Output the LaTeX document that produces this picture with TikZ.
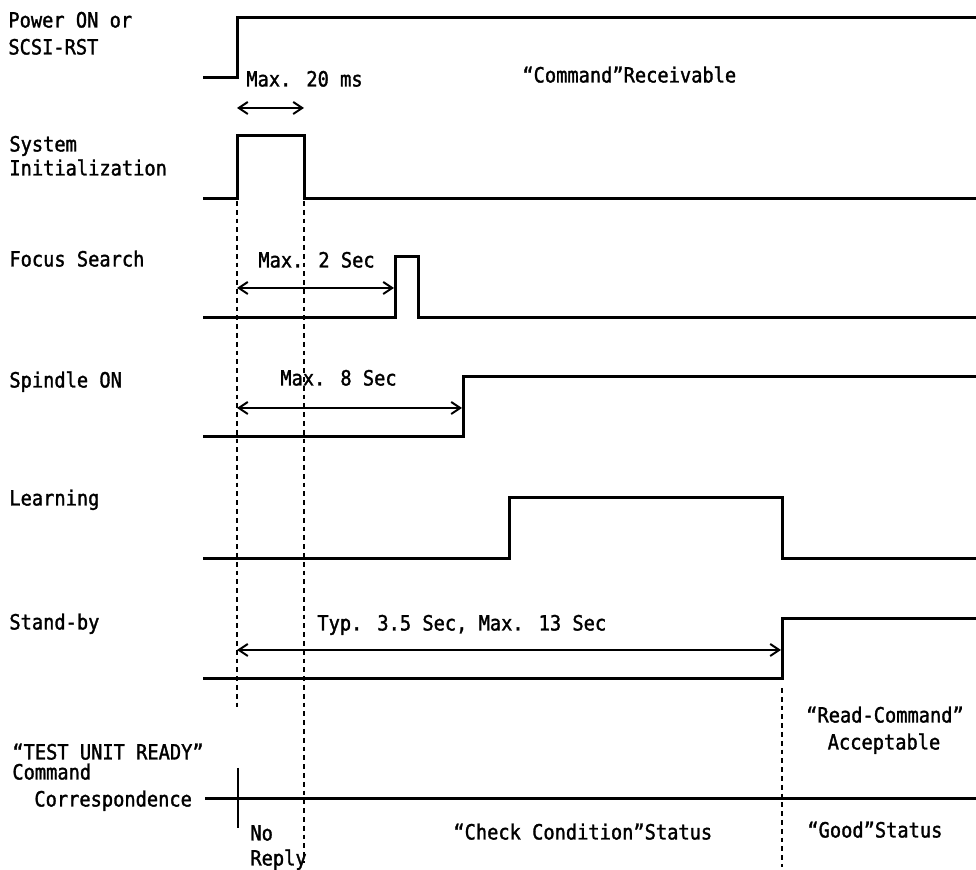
\documentclass[tikz,border=0pt]{standalone}
\usepackage{fontspec}
\setmainfont{DejaVu Sans Mono}[FakeStretch=0.89, FakeBold=1.5]
\usetikzlibrary{arrows.meta}

\begin{document}
\begin{tikzpicture}[x=0.5pt, y=-0.5pt,
    sig/.style={line width=1.5pt},
    guide/.style={line width=1pt, dash pattern=on 2.4pt off 2pt},
    dim/.style={line width=1pt,
                {Straight Barb[length=4.5pt,width=6pt]}-{Straight Barb[length=4.5pt,width=6pt]}},
    lbl/.style={anchor=west, inner sep=0pt, text height=7.5pt, text depth=0pt,
                font=\fontsize{10.5}{12}\selectfont},
    ctr/.style={lbl, anchor=center},
  ]
    \useasboundingbox (0,0) rectangle (976,870);

    % Signal names
    \node[lbl] (power)   at (8,20)   {Power ON or};
    \node[lbl] (scsi)    at (8,47)   {SCSI-RST};
    \node[lbl] (sys)     at (9,144)  {System};
    \node[lbl] (init)    at (9,168)  {Initialization};
    \node[lbl] (focus)   at (9,259)  {Focus Search};
    \node[lbl] (spindle) at (9,380)  {Spindle ON};
    \node[lbl] (learn)   at (9,498)  {Learning};
    \node[lbl] (standby) at (9,622)  {Stand-by};
    \node[lbl] (tur)     at (12,752) {“TEST UNIT READY”};
    \node[lbl] (cmd)     at (12,772) {Command};
    \node[lbl] (corr)    at (34,799) {Correspondence};

    % Waveforms
    \draw[sig] (203,78) -- (237,78) -- (237,18) -- (976,18);
    \draw[sig] (203,199) -- (237,199) -- (237,136) -- (304,136) -- (304,199) -- (976,199);
    \draw[sig] (203,318) -- (395,318) -- (395,257) -- (418,257) -- (418,318) -- (976,318);
    \draw[sig] (203,437) -- (463,437) -- (463,377) -- (976,377);
    \draw[sig] (203,559) -- (509,559) -- (509,498) -- (782,498) -- (782,559) -- (976,559);
    \draw[sig] (203,679) -- (782,679) -- (782,619) -- (976,619);
    \draw[sig] (205,799) -- (976,799);
    \draw[line width=1.2pt] (238,768) -- (238,828);

    % Guides
    \draw[guide] (237,201) -- (237,708);
    \draw[guide] (304,201) -- (304,863);
    \draw[guide] (782,688) -- (782,867);

    % Time spans
    \coordinate (m20a) at (237,108);  \coordinate (m20b) at (304,108);
    \coordinate (m2a)  at (237,288);  \coordinate (m2b)  at (394,288);
    \coordinate (m8a)  at (237,408);  \coordinate (m8b)  at (462,408);
    \coordinate (m13a) at (237,650);  \coordinate (m13b) at (781,650);
    \draw[dim] (m20a) -- (m20b);
    \draw[dim] (m2a)  -- (m2b);
    \draw[dim] (m8a)  -- (m8b);
    \draw[dim] (m13a) -- (m13b);

    % Span and state texts
    \node[lbl] (t20)  at (246,79)  {Max. 20 ms};
    \node[lbl] (rcv)  at (522,75)  {“Command”Receivable};
    \node[lbl] (t2)   at (258,260) {Max. 2 Sec};
    \node[lbl] (t8)   at (280,378) {Max. 8 Sec};
    \node[lbl] (t13)  at (317,623) {Typ. 3.5 Sec, Max. 13 Sec};
    \node[ctr] (rdc)  at (885,715) {“Read-Command”};
    \node[ctr] (acc)  at (884,742) {Acceptable};
    \node[lbl] (norp) at (250,833) {No};
    \node[lbl] (rply) at (250,858) {Reply};
    \node[lbl] (chk)  at (453,832) {“Check Condition”Status};
    \node[lbl] (good) at (807,830) {“Good”Status};
  \end{tikzpicture}
\end{document}
